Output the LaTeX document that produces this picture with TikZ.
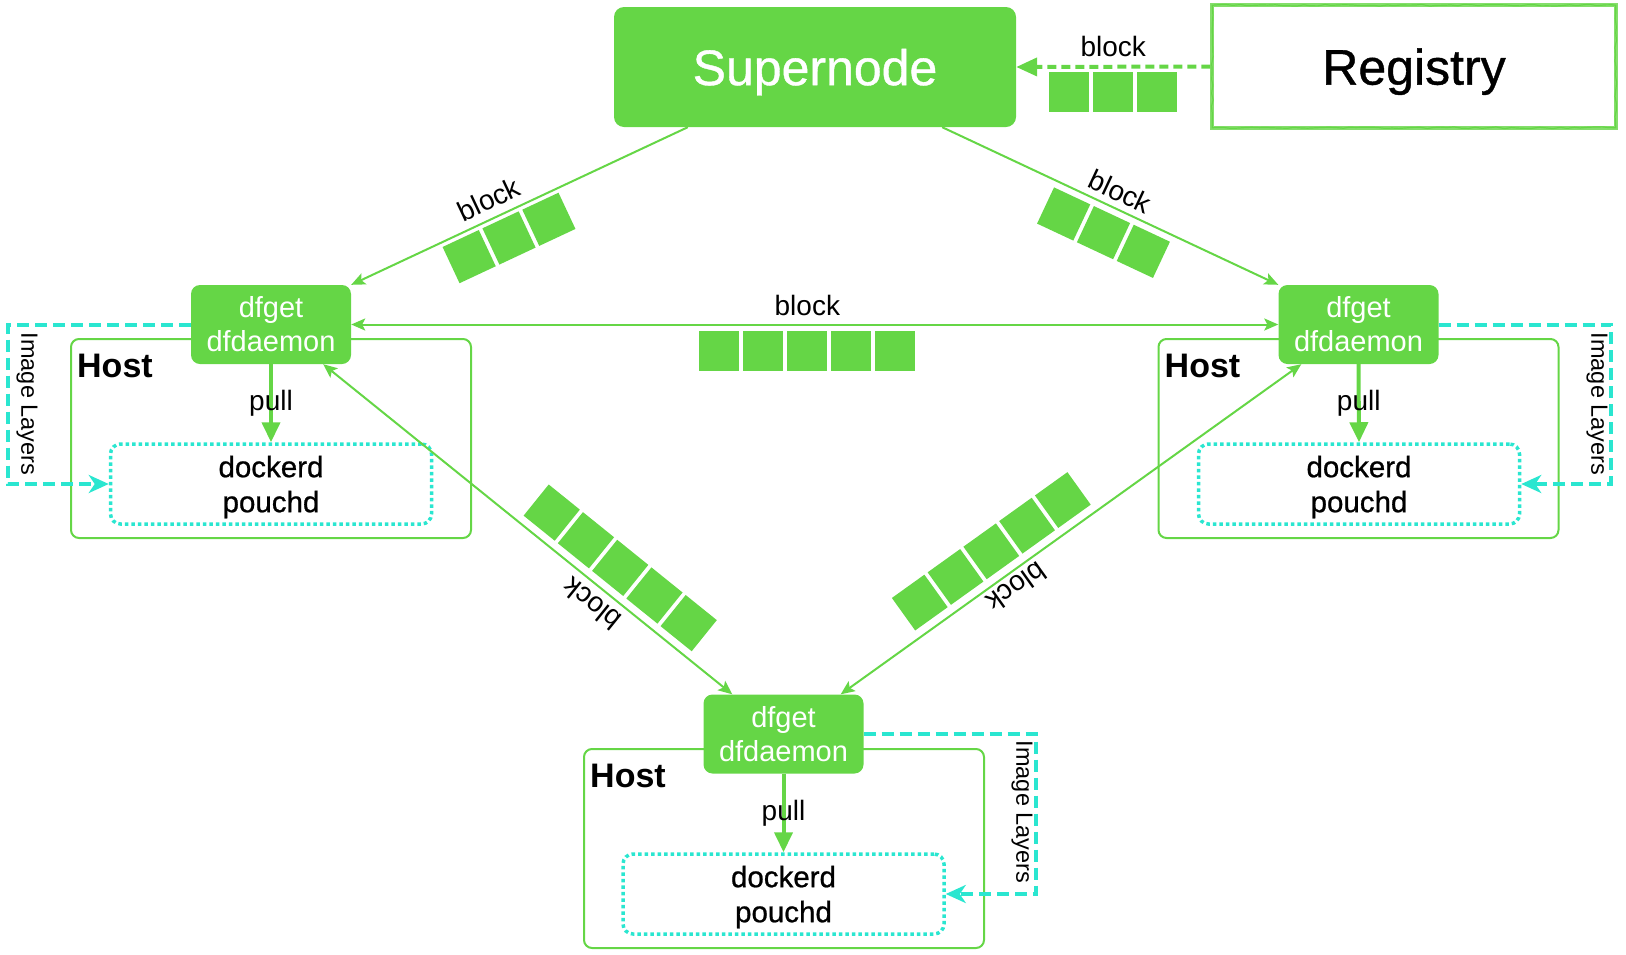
\documentclass[tikz,border=0pt]{standalone}
\usepackage{fontspec}
\setmainfont{Liberation Sans}
\newfontface\medfont{Liberation Sans}[FakeBold=0.8]
\usetikzlibrary{arrows.meta,decorations.pathmorphing}

\definecolor{dfgreen}{RGB}{101,214,70}
\definecolor{dfcyan}{RGB}{42,230,208}

\newcommand\fsz[2]{\fontsize{#1pt}{#2pt}\selectfont}
% a single data block and rows of blocks
\newcommand\blk{\textcolor{dfgreen}{\rule{40pt}{40pt}}}
\newcommand\blkgap{\hspace{4pt}}
\newcommand\blkthree{\blk\blkgap\blk\blkgap\blk}
\newcommand\blkfive{\blk\blkgap\blk\blkgap\blk\blkgap\blk\blkgap\blk}

\tikzset{
  flowtip/.tip={Stealth[length=14pt,width=12pt,inset=3pt]},
}

\begin{document}
\begin{tikzpicture}[x=1pt,y=-1pt,
  greenbox/.style={fill=dfgreen, rounded corners=10pt, text=white, inner sep=0pt},
  agent/.style={greenbox, minimum width=160pt, minimum height=79pt,
    rounded corners=9pt, font=\fsz{29}{34}, align=center},
  hostbox/.style={draw=dfgreen, line width=2pt, rounded corners=8pt,
    minimum width=400pt, minimum height=199pt, inner sep=0pt},
  enginebox/.style={draw=dfcyan, line width=3.5pt, dash pattern=on 3.5pt off 3pt,
    rounded corners=10pt, minimum width=321pt, minimum height=80pt,
    font=\medfont\fsz{29.5}{35}, align=center, inner sep=0pt, text depth=0pt},
  hosttitle/.style={font=\fsz{34}{40}\bfseries, anchor=north west, inner sep=0pt},
  conn/.style={draw=dfgreen, line width=2pt},
  pullarrow/.style={draw=dfgreen, line width=4pt, -{Triangle[length=20pt,width=18pt]}},
  pulllbl/.style={font=\fsz{28}{34}, inner sep=0pt},
  layers/.style={draw=dfcyan, line width=4pt, dash pattern=on 12pt off 6pt,
    -{Stealth[length=20pt,width=18pt,inset=6pt]}},
  layerlbl/.style={font=\fsz{23.5}{28}, rotate=-90, inner sep=0pt},
  blocklbl/.style={font=\fsz{28}{34}, inner sep=0pt, anchor=south},
  chain/.style={inner sep=0pt, anchor=north},
  regbox/.style={draw=dfgreen!80!white, line width=3.5pt, minimum width=404pt,
    minimum height=123pt, inner sep=0pt, font=\medfont\fsz{50}{60}, text depth=0pt},
  regfeed/.style={draw=dfgreen, line width=4pt, dash pattern=on 9pt off 5pt,
    -{Triangle[length=21pt,width=18pt]}},
]
\useasboundingbox (0,0) rectangle (1626,954);

% host frames
\node[hostbox] (h1) at (271,438.5) {};
\node[hostbox] (h2) at (1358.5,438.5) {};
\node[hostbox] (h3) at (784,848.5) {};
\node[hosttitle] (t1) at ([shift={(7,16)}]h1.north west) {Host};
\node[hosttitle] (t2) at ([shift={(7,16)}]h2.north west) {Host};
\node[hosttitle] (t3) at ([shift={(7,16)}]h3.north west) {Host};

% container engines
\node[enginebox] (k1) at (271,484) {dockerd\\pouchd};
\node[enginebox] (k2) at (1359,484) {dockerd\\pouchd};
\node[enginebox] (k3) at (783.5,894) {dockerd\\pouchd};

% peer agents
\node[agent] (d1) at (271,324.5) {dfget\\dfdaemon};
\node[agent] (d2) at (1358.5,324.5) {dfget\\dfdaemon};
\node[agent] (d3) at (783.5,734) {dfget\\dfdaemon};

% supernode and registry
\node[greenbox, minimum width=402pt, minimum height=120pt, font=\medfont\fsz{50}{60},
      text depth=0pt] (sn) at (815,67) {Supernode};
\node[regbox] (reg) at (1414,66.5) {Registry};
\draw[dfgreen, line width=1.2pt, decorate,
      decoration={random steps, segment length=7pt, amplitude=0.9pt}]
  ([shift={(2,-2)}]reg.south west) rectangle ([shift={(-2,2)}]reg.north east);

% registry feeds the supernode
\draw[regfeed] (reg.west) -- (sn.east)
  node[midway, blocklbl, outer sep=10pt] {block}
  node[midway, chain, outer sep=5pt] {\blkthree};

% supernode to peers
\draw[conn, -flowtip] ([xshift=74pt]sn.south west) -- (d1.north east)
  node[pos=0.567, sloped, blocklbl, outer sep=9pt] {block}
  node[pos=0.562, sloped, chain, outer sep=4.5pt] {\blkthree};
\draw[conn, -flowtip] ([xshift=-74pt]sn.south east) -- (d2.north west)
  node[pos=0.508, sloped, blocklbl, outer sep=7pt] {block}
  node[pos=0.514, sloped, chain, outer sep=7pt] {\blkthree};

% peer to peer
\draw[conn, flowtip-flowtip] (d1.east) -- (d2.west)
  node[pos=0.492, blocklbl, outer sep=9pt] {block}
  node[pos=0.492, chain, outer sep=6pt] {\blkfive};
\draw[conn, flowtip-flowtip] ([xshift=29pt]d3.north west) -- ([xshift=-28pt]d1.south east)
  node[pos=0.316, sloped, allow upside down, blocklbl, outer sep=8pt] {block}
  node[pos=0.317, sloped, allow upside down, chain, outer sep=8pt] {\blkfive};
\draw[conn, flowtip-flowtip] ([xshift=23pt]d2.south west) -- ([xshift=-23pt]d3.north east)
  node[pos=0.638, sloped, allow upside down, blocklbl, outer sep=5pt] {block}
  node[pos=0.637, sloped, allow upside down, chain, outer sep=8.5pt] {\blkfive};

% pulls inside each host
\draw[pullarrow] (d1.south) -- (k1.north) node[midway, pulllbl] {pull};
\draw[pullarrow] (d2.south) -- (k2.north) node[midway, pulllbl] {pull};
\draw[pullarrow] (d3.south) -- (k3.north) node[midway, pulllbl] {pull};

% image layers handed to the engines
\draw[layers] (d1.west) -- ++(-183,0) |- (k1.west);
\draw[layers] (d2.east) -- ++(172.5,0) |- (k2.east);
\draw[layers] (d3.east) -- ++(172.5,0) |- (k3.east);
\node[layerlbl] (l1) at (27,404) {Image Layers};
\node[layerlbl] (l2) at (1597,404) {Image Layers};
\node[layerlbl] (l3) at (1022,812) {Image Layers};
\end{tikzpicture}
\end{document}
